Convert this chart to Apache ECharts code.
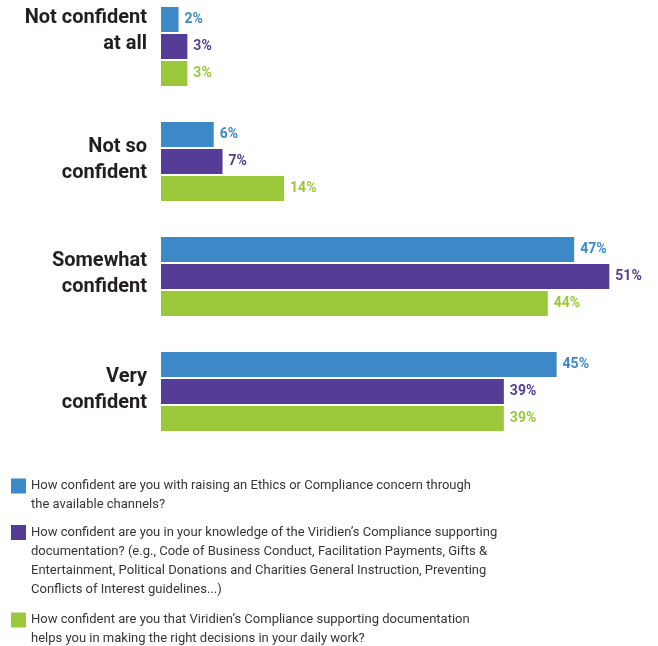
<!DOCTYPE html>
<html>
<head>
<meta charset="utf-8">
<script src="https://cdn.jsdelivr.net/npm/echarts@6/dist/echarts.min.js"></script>
<style>
  html, body { margin: 0; padding: 0; background: #ffffff; }
  #chart { width: 658px; height: 646px; }
</style>
</head>
<body>
<div id="chart"></div>
<script>
// Answer categories, top to bottom
const categories = ['Not confident\nat all', 'Not so\nconfident', 'Somewhat\nconfident', 'Very\nconfident'];

// Share of respondents (%) for each question
const channelsConcern = [2, 6, 47, 45];
const docsKnowledge = [3, 7, 51, 39];
const docsHelpDecisions = [3, 14, 44, 39];

// Question wording used in the legend
const questions = [
  'How confident are you with raising an Ethics or Compliance concern through\nthe available channels?',
  'How confident are you in your knowledge of the Viridien\u2019s Compliance supporting\ndocumentation? (e.g., Code of Business Conduct, Facilitation Payments, Gifts &\nEntertainment, Political Donations and Charities General Instruction, Preventing\nConflicts of Interest guidelines...)',
  'How confident are you that Viridien\u2019s Compliance supporting documentation\nhelps you in making the right decisions in your daily work?'
];

const colors = ['#3d89c8', '#553c97', '#9bc83b'];
const LH = 19;

const chart = echarts.init(document.getElementById('chart'), null, { renderer: 'canvas' });

function seriesOf(name, data, color) {
  return {
    name: name,
    type: 'bar',
    data: data,
    barWidth: 25,
    barGap: '8%',
    itemStyle: { color: color },
    label: {
      show: true,
      position: 'right',
      distance: 6,
      formatter: '{c}%',
      color: color,
      fontFamily: 'Roboto, sans-serif',
      fontWeight: 'bold',
      fontSize: 14
    }
  };
}

// one legend block per question; leading blank lines keep the icon beside the first line
const iconCenters = [486, 532.5, 620];
const legends = questions.map(function (q, i) {
  const n = q.split('\n').length;
  return {
    data: [{ name: q, icon: 'rect' }],
    left: 11,
    top: iconCenters[i] - (2 * n - 1) * LH / 2,
    padding: 0,
    itemWidth: 15,
    itemHeight: 15,
    itemGap: 0,
    selectedMode: false,
    formatter: function (name) {
      return '\n'.repeat(n - 1) + name;
    },
    textStyle: {
      color: '#363636',
      fontFamily: 'Roboto, sans-serif',
      fontSize: 13,
      lineHeight: LH
    }
  };
});

// y labels: a trailing spacer line lifts each text block a little above its band centre
const spacerStyles = ['s32', 's3', 's6', 's4'];
const rich = {};
[32, 3, 6, 4].forEach(function (h) {
  rich['s' + h] = { fontSize: 1, lineHeight: h };
});

chart.setOption({
  animation: false,
  color: colors,
  legend: legends,
  grid: { left: 161, right: 13.5, top: -11, height: 460, outerBoundsMode: 'none', containLabel: false },
  xAxis: {
    type: 'value',
    min: 0,
    max: 55,
    show: false
  },
  yAxis: {
    type: 'category',
    inverse: true,
    data: categories,
    axisLine: { show: false },
    axisTick: { show: false },
    splitLine: { show: false },
    axisLabel: {
      margin: 14,
      color: '#231f20',
      fontFamily: 'Roboto, sans-serif',
      fontWeight: 'bold',
      fontSize: 20,
      lineHeight: 26,
      align: 'right',
      formatter: function (value, index) {
        return value + '\n{' + spacerStyles[index] + '| }';
      },
      rich: rich
    }
  },
  series: [
    seriesOf(questions[0], channelsConcern, colors[0]),
    seriesOf(questions[1], docsKnowledge, colors[1]),
    seriesOf(questions[2], docsHelpDecisions, colors[2])
  ]
});
</script>
</body>
</html>
